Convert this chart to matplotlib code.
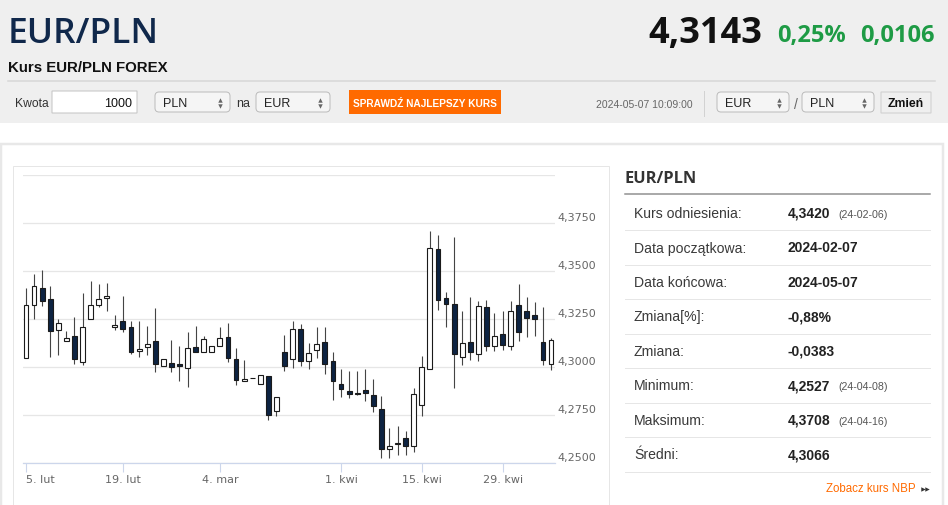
import matplotlib

matplotlib.use("Agg")

import matplotlib.pyplot as plt
from matplotlib import font_manager
from matplotlib.patches import FancyBboxPatch, Rectangle
from matplotlib.transforms import blended_transform_factory, offset_copy

# --- data (EUR/PLN daily candles, 2024-02-05 .. 2024-05-07)
opens = [
    4.3048, 4.3324, 4.3410, 4.3353, 4.3193, 4.3137, 4.3160, 4.3027, 4.3249, 4.3324,
    4.3358, 4.3209, 4.3237, 4.3206, 4.3081, 4.3102, 4.3134, 4.3006, 4.3020, 4.3015,
    4.2996, 4.3106, 4.3080, 4.3076, 4.3111, 4.3158, 4.3041, 4.2926, 4.2945, 4.2913,
    4.2954, 4.2772, 4.3080, 4.3041, 4.3199, 4.3032, 4.3087, 4.3129, 4.3032, 4.2913,
    4.2873, 4.2866, 4.2882, 4.2852, 4.2782, 4.2572, 4.2601, 4.2628, 4.2590, 4.2800,
    4.2989, 4.3613, 4.3360, 4.3328, 4.3050, 4.3132, 4.3067, 4.3311, 4.3111, 4.3171,
    4.3111, 4.3321, 4.3290, 4.3272, 4.3132, 4.3015,
]
highs = [
    4.3409, 4.3482, 4.3507, 4.3421, 4.3251, 4.3188, 4.3262, 4.3384, 4.3447, 4.3433,
    4.3437, 4.3269, 4.3368, 4.3237, 4.3242, 4.3211, 4.3307, 4.3043, 4.3139, 4.3109,
    4.3181, 4.3211, 4.3164, 4.3108, 4.3206, 4.3228, 4.3101, 4.3036, 4.2945, 4.2957,
    4.2954, 4.2843, 4.3167, 4.3241, 4.3223, 4.3123, 4.3206, 4.3206, 4.3080, 4.2989,
    4.2978, 4.2978, 4.2989, 4.2936, 4.2849, 4.2682, 4.2691, 4.2667, 4.2891, 4.3059,
    4.3708, 4.3687, 4.3389, 4.3675, 4.3290, 4.3363, 4.3346, 4.3351, 4.3281, 4.3293,
    4.3346, 4.3433, 4.3363, 4.3337, 4.3311, 4.3153,
]
lows = [
    4.3048, 4.3251, 4.3319, 4.3053, 4.3062, 4.3137, 4.3017, 4.3010, 4.3249, 4.3314,
    4.3290, 4.3192, 4.3181, 4.3069, 4.3052, 4.3062, 4.2975, 4.3006, 4.2975, 4.2927,
    4.2896, 4.3078, 4.3080, 4.3076, 4.3111, 4.3027, 4.2908, 4.2926, 4.2943, 4.2913,
    4.2726, 4.2744, 4.2978, 4.2996, 4.3006, 4.2992, 4.3048, 4.2961, 4.2826, 4.2845,
    4.2838, 4.2852, 4.2821, 4.2765, 4.2527, 4.2528, 4.2541, 4.2541, 4.2555, 4.2747,
    4.2989, 4.3298, 4.3207, 4.2891, 4.3010, 4.3039, 4.3031, 4.3083, 4.3083, 4.3088,
    4.3088, 4.3136, 4.3158, 4.3162, 4.3010, 4.2983,
]
closes = [
    4.3321, 4.3424, 4.3346, 4.3188, 4.3230, 4.3150, 4.3041, 4.3206, 4.3321, 4.3353,
    4.3368, 4.3221, 4.3199, 4.3080, 4.3094, 4.3118, 4.3017, 4.3043, 4.3001, 4.3004,
    4.3101, 4.3078, 4.3146, 4.3108, 4.3153, 4.3048, 4.2931, 4.2940, 4.2943, 4.2957,
    4.2751, 4.2843, 4.3006, 4.3199, 4.3032, 4.3073, 4.3118, 4.3015, 4.2926, 4.2884,
    4.2859, 4.2857, 4.2866, 4.2796, 4.2572, 4.2586, 4.2604, 4.2590, 4.2859, 4.3001,
    4.3619, 4.3351, 4.3330, 4.3066, 4.3123, 4.3076, 4.3316, 4.3111, 4.3164, 4.3115,
    4.3290, 4.3181, 4.3255, 4.3251, 4.3036, 4.3141,
]

x_tick_pos = [0, 12, 24, 39, 49, 59]
x_tick_labels = ["5. lut", "19. lut", "4. mar", "1. kwi", "15. kwi", "29. kwi"]
y_ticks = [4.25, 4.275, 4.30, 4.325, 4.35, 4.375, 4.40]
y_labelled = [4.25, 4.275, 4.30, 4.325, 4.35, 4.375]

stat_labels = [
    "Kurs odniesienia:", "Data początkowa:", "Data końcowa:", "Zmiana[%]:",
    "Zmiana:", "Minimum:", "Maksimum:", "Średni:",
]
stat_values = [
    "4,3420", "2024-02-07", "2024-05-07", "-0,88%",
    "-0,0383", "4,2527", "4,3708", "4,3066",
]
stat_dates = ["(24-02-06)", "", "", "", "", "(24-04-08)", "(24-04-16)", ""]

pair = "EUR/PLN"
last_rate = "4,3143"
change_pct = "0,25%"
change_abs = "0,0106"
timestamp = "2024-05-07 10:09:00"

W, H = 948, 506
NAVY = "#0d2342"
GREEN = "#1e9b45"
ORANGE = "#ff6a00"

installed = {f.name for f in font_manager.fontManager.ttflist}
HAS_NARROW = "Liberation Sans Narrow" in installed
ARIAL = "Liberation Sans"
BIG = "Open Sans"


def px(v: float) -> float:
    # pixel size -> points at dpi 100
    return v * 0.72


def rbox(ui, x0, y0, x1, y1, fc, ec, lw=1.0, r=0.0, z=1):
    ui.add_patch(
        FancyBboxPatch(
            (x0, y0), x1 - x0, y1 - y0,
            boxstyle=f"round,pad=0,rounding_size={r}",
            fc=fc, ec=ec, lw=px(lw), zorder=z,
        )
    )


def select(ui, x0, x1, label):
    rbox(ui, x0, 93, x1, 113, "#f5f5f5", "#bcbcbc", r=4)
    ui.text(x0 + 8, 103.5, label, fontsize=9, family=ARIAL, color="#222",
            va="center", ha="left", zorder=3)
    ax_ = x1 - 10
    ui.plot([ax_], [100.5], marker="^", ms=3.2, color="#666", mew=0, zorder=3)
    ui.plot([ax_], [106.5], marker="v", ms=3.2, color="#666", mew=0, zorder=3)


def draw_header(ui):
    ui.add_patch(Rectangle((0, 0), W, 124, fc="#efefef", ec="none", zorder=0))

    ui.text(8, 43, pair, fontsize=25.5, family=BIG, weight="semibold",
            color="#10284b", va="baseline")
    ui.text(8, 72, "Kurs EUR/PLN FOREX", fontsize=10.8, family=ARIAL,
            weight="bold", color="#111", va="baseline")

    ui.text(648, 43, last_rate, fontsize=26, family=BIG, weight="bold",
            color="#111", va="baseline")
    ui.text(777, 41.5, change_pct, fontsize=17, family=BIG, weight="bold",
            color=GREEN, va="baseline")
    ui.text(860, 41.5, change_abs, fontsize=17, family=BIG, weight="bold",
            color=GREEN, va="baseline")

    ui.plot([8, 935], [82, 82], color="#d6d6d6", lw=px(1.5))

    # converter row
    ui.text(15, 103.5, "Kwota", fontsize=8.7, family=ARIAL, color="#333",
            va="center")
    rbox(ui, 52, 92, 137, 114, "white", "#c4c4c4")
    ui.text(132.5, 103.5, "1000", fontsize=9, family=ARIAL, color="#111",
            va="center", ha="right", zorder=3)
    select(ui, 155, 230, "PLN")
    ui.text(236, 103.5, "na", fontsize=9, family=ARIAL, color="#333",
            va="center")
    select(ui, 256, 330, "EUR")

    rbox(ui, 349, 91, 501, 115, ORANGE, "none")
    btn = "SPRAWDŹ NAJLEPSZY KURS"
    if HAS_NARROW:
        ui.text(425, 103.5, btn, fontsize=8.6, family="Liberation Sans Narrow",
                weight="bold", color="white", va="center", ha="center", zorder=3)
    else:
        ui.text(425, 103.5, btn, fontsize=7.3, family=ARIAL, weight="bold",
                color="white", va="center", ha="center", zorder=3)

    ui.text(596.5, 105, timestamp, fontsize=7.5, family=ARIAL, color="#666",
            va="center")
    ui.plot([704, 704], [92, 117], color="#d2d2d2", lw=px(1))
    select(ui, 717, 789, "EUR")
    ui.text(795.5, 105, "/", fontsize=10, family=ARIAL, color="#666",
            va="center", ha="center")
    select(ui, 802, 874, "PLN")
    rbox(ui, 881, 93, 931, 114, "#efefef", "#cfcfcf")
    ui.text(906, 104, "Zmień", fontsize=8.8, family=ARIAL, weight="bold",
            color="#111", va="center", ha="center", zorder=3)


def draw_panels(ui):
    # outer white panel and chart frame
    ui.add_patch(Rectangle((1, 144.5), 942, 380, fc="white", ec="#e8e8e8",
                           lw=px(2.5), zorder=0.5))
    ui.add_patch(Rectangle((13, 166.5), 596, 360, fc="white", ec="#e6e6e6",
                           lw=px(1), zorder=0.6))


def draw_stats(ui):
    ui.text(625, 179, pair, fontsize=11.8, family=BIG, weight="bold",
            color="#333", va="center")
    ui.plot([625, 930], [195, 195], color="#8e8e8e", lw=px(1.5))
    row_h = 34.5
    for i, (lab, val, dt) in enumerate(zip(stat_labels, stat_values, stat_dates)):
        yc = 214 + i * row_h
        ui.text(634, yc, lab, fontsize=10.1, family=ARIAL, color="#3a3a3a",
                va="center")
        ui.text(788, yc, val, fontsize=10, family=ARIAL, weight="bold",
                color="#222", va="center")
        if dt:
            ui.text(838, yc + 1, dt, fontsize=7.7, family=ARIAL,
                    color="#555", va="center")
        ys = 231.3 + i * row_h
        ui.plot([625, 930], [ys, ys], color="#e6e6e6", lw=px(1))

    ui.text(916, 489.5, "Zobacz kurs NBP", fontsize=8.3, family=ARIAL,
            color=ORANGE, va="center", ha="right")
    ui.plot([923, 927.5], [490, 490], ls="none", marker=">", ms=3.2,
            color="#333", mew=0)


def draw_chart(fig):
    left, right, top, bottom = 23, 555, 176, 464
    ax = fig.add_axes([left / W, (H - bottom) / H, (right - left) / W,
                       (bottom - top) / H])
    ax.set_facecolor("none")
    ax.set_xlim(-0.37, 65.49)
    ax.set_ylim(4.25, 4.40)

    xs = list(range(len(opens)))
    ax.vlines(xs, lows, highs, color="#444444", lw=0.8, zorder=2)

    bottoms = [min(o, c) for o, c in zip(opens, closes)]
    heights = [max(abs(c - o), 0.00015) for o, c in zip(opens, closes)]
    fills = ["white" if c >= o else NAVY for o, c in zip(opens, closes)]
    ax.bar(xs, heights, bottom=bottoms, width=0.6, color=fills,
           edgecolor="#1a1a1a", lw=0.8, zorder=3)

    ax.set_yticks(y_ticks)
    ax.grid(axis="y", color="#e6e6e6", lw=0.9, zorder=0)
    ax.tick_params(axis="y", length=0, labelleft=False)
    for s in ("top", "left", "right"):
        ax.spines[s].set_visible(False)
    ax.spines["bottom"].set_color("#ccd6eb")
    ax.spines["bottom"].set_linewidth(0.9)
    ax.spines["bottom"].set_zorder(4)

    trans = blended_transform_factory(ax.transAxes, ax.transData)
    trans = offset_copy(trans, fig=fig, x=2, y=6, units="dots")
    for v in y_labelled:
        ax.text(1.0, v, f"{v:.4f}".replace(".", ","), transform=trans,
                fontsize=8, color="#666666", va="center", ha="left")

    ax.set_xticks(x_tick_pos)
    ax.set_xticklabels(x_tick_labels)
    ax.tick_params(axis="x", length=6.5, width=0.8, color="#ccd6eb",
                   labelcolor="#666666", labelsize=8, pad=1.5)
    first = ax.get_xticklabels()[0]
    first.set_ha("left")
    first.set_transform(first.get_transform() + offset_copy(
        ax.transData, fig=fig, x=-3, y=0, units="dots") - ax.transData)
    return ax


def main() -> None:
    fig = plt.figure(figsize=(W / 100, H / 100), dpi=100)
    fig.patch.set_facecolor("white")

    ui = fig.add_axes([0, 0, 1, 1])
    ui.set_xlim(0, W)
    ui.set_ylim(H, 0)
    ui.axis("off")

    draw_header(ui)
    draw_panels(ui)
    draw_stats(ui)
    draw_chart(fig)

    fig.savefig("out.png", dpi=100)
    plt.close(fig)


if __name__ == "__main__":
    main()
